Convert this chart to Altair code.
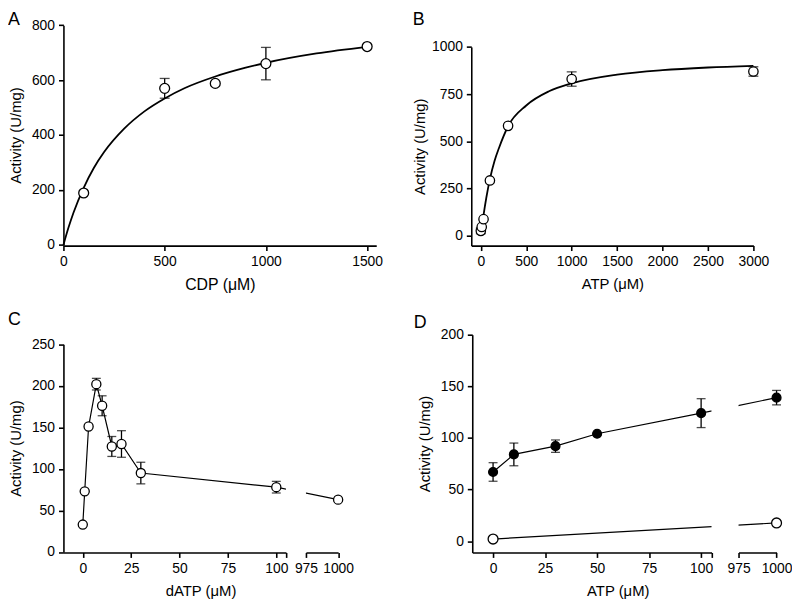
import altair as alt
import pandas as pd

FONT = "Liberation Sans"

panel_letters = ["A", "B", "C", "D"]

# ---------------- Panel A : CDP ----------------
a_x = [100, 500, 750, 1000, 1500]
a_y = [189, 570, 588, 660, 722]
a_sd = [0, 36, 0, 59, 0]
# fitted curve
a_curve_x = [0, 25, 50, 100, 150, 200, 300, 400, 500, 600, 750, 900, 1000, 1250, 1500]
a_curve_y = [0, 63, 118, 208, 280, 337, 423, 486, 533, 571, 613, 645, 663, 697, 721]

# ---------------- Panel B : ATP ----------------
b_x = [0, 10, 30, 100, 300, 1000, 3000]
b_y = [26, 47, 88, 293, 582, 830, 870]
b_sd = [15, 0, 0, 0, 0, 38, 25]
b_curve_x = [0, 10, 30, 60, 100, 150, 200, 300, 500, 750, 1000, 1500, 2000, 2500, 3000]
b_curve_y = [10, 42, 110, 200, 300, 395, 465, 580, 690, 765, 807, 853, 877, 891, 900]

# ---------------- Panel C : dATP ----------------
c_x = [0, 1, 3, 7, 10, 15, 20, 30, 100, 1000]
c_y = [33, 73, 151, 202, 176, 127, 130, 95, 78, 63]
c_sd = [0, 0, 0, 7, 12, 12, 16, 13, 7, 0]

# ---------------- Panel D : ATP (two series) ----------------
d_x = [0, 10, 30, 50, 100, 1000]
d_y_filled = [67, 84, 92, 104, 124, 139]
d_sd_filled = [9, 11, 6, 0, 14, 7]
d_x_open = [0, 1000]
d_y_open = [2, 17.6]

# axis break
BRK_LO, BRK_HI = 105, 975

dfA = pd.DataFrame({"x": a_x, "y": a_y, "sd": a_sd})
dfAc = pd.DataFrame({"x": a_curve_x, "y": a_curve_y})
dfB = pd.DataFrame({"x": b_x, "y": b_y, "sd": b_sd})
dfBc = pd.DataFrame({"x": b_curve_x, "y": b_curve_y})
dfC = pd.DataFrame({"x": c_x, "y": c_y, "sd": c_sd})
dfD = pd.DataFrame({"x": d_x, "y": d_y_filled, "sd": d_sd_filled})
dfDo = pd.DataFrame({"x": d_x_open, "y": d_y_open})

LW = 1.3


def sc(domain, rng):
    return alt.Scale(domain=domain, range=rng, nice=False, zero=False)


def open_points(chart, x, y, size):
    return chart.mark_point(shape="circle", filled=True, color="white", stroke="black",
                            strokeWidth=LW, size=size, opacity=1).encode(x=x, y=y)


def filled_points(chart, x, y, size):
    return chart.mark_point(shape="circle", filled=True, color="black", stroke="black",
                            strokeWidth=LW, size=size, opacity=1).encode(x=x, y=y)


def errbars(chart, x, yfn, cap=10):
    e = chart.transform_filter("datum.sd > 0").transform_calculate(
        lo="datum.y - datum.sd", hi="datum.y + datum.sd")
    rule = e.mark_rule(color="black", strokeWidth=LW).encode(x=x, y=yfn("lo"), y2="hi:Q")
    lo = e.mark_tick(orient="horizontal", size=cap, thickness=LW, color="black").encode(x=x, y=yfn("lo"))
    hi = e.mark_tick(orient="horizontal", size=cap, thickness=LW, color="black").encode(x=x, y=yfn("hi"))
    return [rule, lo, hi]


def letter(i, dx, dy):
    return alt.Chart(pd.DataFrame({"t": [panel_letters[i]]})).mark_text(
        font=FONT, fontSize=18, align="left", baseline="top", color="black"
    ).encode(text="t:N", x=alt.value(dx), y=alt.value(dy))


# ---------------- A ----------------
def xA(f):
    return alt.X(f + ":Q", scale=sc([0, 1545], [0, 316]),
                 axis=alt.Axis(values=[0, 500, 1000, 1500], title="CDP (μM)", format="d",
                               titleFontSize=16))


def yA(f):
    return alt.Y(f + ":Q", scale=sc([0, 800], [222.3, 0.3]),
                 axis=alt.Axis(values=[0, 200, 400, 600, 800], title="Activity (U/mg)", titlePadding=8,
                               format="d"))


chA = alt.layer(
    alt.Chart(dfAc).mark_line(color="black", strokeWidth=1.8, interpolate="monotone").encode(x=xA("x"), y=yA("y")),
    *errbars(alt.Chart(dfA), xA("x"), yA),
    open_points(alt.Chart(dfA), xA("x"), yA("y"), 100),
    letter(0, -56, -14),
).properties(width=316, height=223)


# ---------------- B ----------------
def xB(f):
    return alt.X(f + ":Q", scale=sc([-105, 3000], [0, 285]),
                 axis=alt.Axis(values=[0, 500, 1000, 1500, 2000, 2500, 3000], title="ATP (μM)", format="d"))


def yB(f):
    return alt.Y(f + ":Q", scale=sc([-52, 1000], [223, 22.3]),
                 axis=alt.Axis(values=[0, 250, 500, 750, 1000], title="Activity (U/mg)", titlePadding=4,
                               format="d"))


chB = alt.layer(
    alt.Chart(dfBc).mark_line(color="black", strokeWidth=1.8, interpolate="monotone").encode(x=xB("x"), y=yB("y")),
    *errbars(alt.Chart(dfB), xB("x"), yB),
    open_points(alt.Chart(dfB), xB("x"), yB("y"), 90),
    letter(1, -59, -14),
).properties(width=308, height=223)


# ---------------- broken-axis helpers ----------------
def xl_expr(gap, pxl, pxr):
    return (f"datum.x <= {BRK_LO} ? datum.x : {BRK_LO} + ({gap} + (datum.x - {BRK_HI}) * {pxr}) / {pxl}")


def xr_expr(gap, pxl, pxr):
    return (f"datum.x >= {BRK_HI} ? datum.x : {BRK_HI} - ({gap} + ({BRK_LO} - datum.x) * {pxl}) / {pxr}")


# ---------------- C ----------------
C_WL, C_WR, C_GAP = 224.8, 32.5, 19.7
C_PXL, C_PXR = C_WL / 115, C_WR / 25
H2 = 220


def yC(f, axis=True):
    if axis:
        return alt.Y(f + ":Q", scale=sc([0, 250], [219.5, 9.7]),
                     axis=alt.Axis(values=[0, 50, 100, 150, 200, 250], title="Activity (U/mg)", titlePadding=8,
                                   format="d"))
    return alt.Y(f + ":Q", scale=sc([0, 250], [219.5, 9.7]), axis=None)


def xCL(f):
    return alt.X(f + ":Q", scale=sc([-10, BRK_LO], [0, C_WL]),
                 axis=alt.Axis(values=[0, 25, 50, 75, 100, 105], format="d",
                               labelExpr="datum.value > 100 ? '' : datum.label",
                               title="dATP (μM)", titleX=138.5))


def xCR(f):
    return alt.X(f + ":Q", scale=sc([BRK_HI, 1000], [0, C_WR]),
                 axis=alt.Axis(values=[975, 1000], title=None, format="d"))


baseCL = alt.Chart(dfC).transform_calculate(xd=xl_expr(C_GAP, C_PXL, C_PXR))
baseCR = alt.Chart(dfC).transform_calculate(xd=xr_expr(C_GAP, C_PXL, C_PXR))

chCL = alt.layer(
    baseCL.mark_line(color="black", strokeWidth=1.2, clip=True).encode(x=xCL("xd"), y=yC("y")),
    *errbars(baseCL.transform_filter(f"datum.x <= {BRK_LO}"), xCL("xd"), yC, cap=9),
    open_points(baseCL.transform_filter(f"datum.x <= {BRK_LO}"), xCL("xd"), yC("y"), 85),
    letter(2, -56, -24),
).properties(width=C_WL, height=H2)

chCR = alt.layer(
    baseCR.mark_line(color="black", strokeWidth=1.2, clip=True).encode(x=xCR("xd"), y=yC("y", False)),
    open_points(baseCR.transform_filter(f"datum.x >= {BRK_HI}"), xCR("xd"), yC("y", False), 85),
).properties(width=476 - 64 - C_WL - C_GAP, height=H2)

# ---------------- D ----------------
D_WL, D_WR, D_GAP = 241.7, 38.4, 26.6
D_PXL, D_PXR = D_WL / 115, D_WR / 25


def yD(f, axis=True):
    if axis:
        return alt.Y(f + ":Q", scale=sc([-11, 200], [220, 0]),
                     axis=alt.Axis(values=[0, 50, 100, 150, 200], title="Activity (U/mg)", titlePadding=8,
                                   format="d"))
    return alt.Y(f + ":Q", scale=sc([-11, 200], [220, 0]), axis=None)


def xDL(f):
    return alt.X(f + ":Q", scale=sc([-10, BRK_LO], [0, D_WL]),
                 axis=alt.Axis(values=[0, 25, 50, 75, 100, 105], format="d",
                               labelExpr="datum.value > 100 ? '' : datum.label",
                               title="ATP (μM)", titleX=147))


def xDR(f):
    return alt.X(f + ":Q", scale=sc([BRK_HI, 1000], [0, D_WR]),
                 axis=alt.Axis(values=[975, 1000], title=None, format="d"))


baseDL = alt.Chart(dfD).transform_calculate(xd=xl_expr(D_GAP, D_PXL, D_PXR))
baseDR = alt.Chart(dfD).transform_calculate(xd=xr_expr(D_GAP, D_PXL, D_PXR))
baseDoL = alt.Chart(dfDo).transform_calculate(xd=xl_expr(D_GAP, D_PXL, D_PXR))
baseDoR = alt.Chart(dfDo).transform_calculate(xd=xr_expr(D_GAP, D_PXL, D_PXR))

yDn = lambda f: yD(f, False)

chDL = alt.layer(
    baseDL.mark_line(color="black", strokeWidth=1.2, clip=True).encode(x=xDL("xd"), y=yD("y")),
    baseDoL.mark_line(color="black", strokeWidth=1.2, clip=True).encode(x=xDL("xd"), y=yD("y")),
    *errbars(baseDL.transform_filter(f"datum.x <= {BRK_LO}"), xDL("xd"), yD, cap=9),
    filled_points(baseDL.transform_filter(f"datum.x <= {BRK_LO}"), xDL("xd"), yD("y"), 80),
    open_points(baseDoL.transform_filter(f"datum.x <= {BRK_LO}"), xDL("xd"), yD("y"), 100),
    letter(3, -59, -21),
).properties(width=D_WL, height=H2)

chDR = alt.layer(
    baseDR.mark_line(color="black", strokeWidth=1.2, clip=True).encode(x=xDR("xd"), y=yDn("y")),
    baseDoR.mark_line(color="black", strokeWidth=1.2, clip=True).encode(x=xDR("xd"), y=yDn("y")),
    *errbars(baseDR.transform_filter(f"datum.x >= {BRK_HI}"), xDR("xd"), yDn, cap=9),
    filled_points(baseDR.transform_filter(f"datum.x >= {BRK_HI}"), xDR("xd"), yDn("y"), 80),
    open_points(baseDoR.transform_filter(f"datum.x >= {BRK_HI}"), xDR("xd"), yDn("y"), 100),
).properties(width=40, height=H2)


def spacer(w):
    return alt.Chart(pd.DataFrame({"v": [0]})).mark_point(opacity=0).encode(
        x=alt.value(0), y=alt.value(0)).properties(width=w, height=H2)


top = alt.hconcat(chA, chB, spacing=96, bounds="flush")
bottom = alt.hconcat(chCL, spacer(C_GAP), chCR, chDL, spacer(D_GAP), chDR, spacing=0, bounds="flush")

chart = alt.vconcat(top, bottom, spacing=19).properties(padding=0).configure_axis(
    domainColor="black", domainWidth=1.6, tickColor="black", tickWidth=1.6, tickSize=5,
    labelColor="black", titleColor="black", labelFont=FONT, titleFont=FONT,
    labelFontSize=14, titleFontSize=15, titleFontWeight="normal", labelPadding=4,
    titlePadding=8, grid=False, labelFlush=False, labelOverlap=False
).configure_view(stroke=None)

chart.save("out.html", embed_options={"renderer": "svg", "actions": False})
